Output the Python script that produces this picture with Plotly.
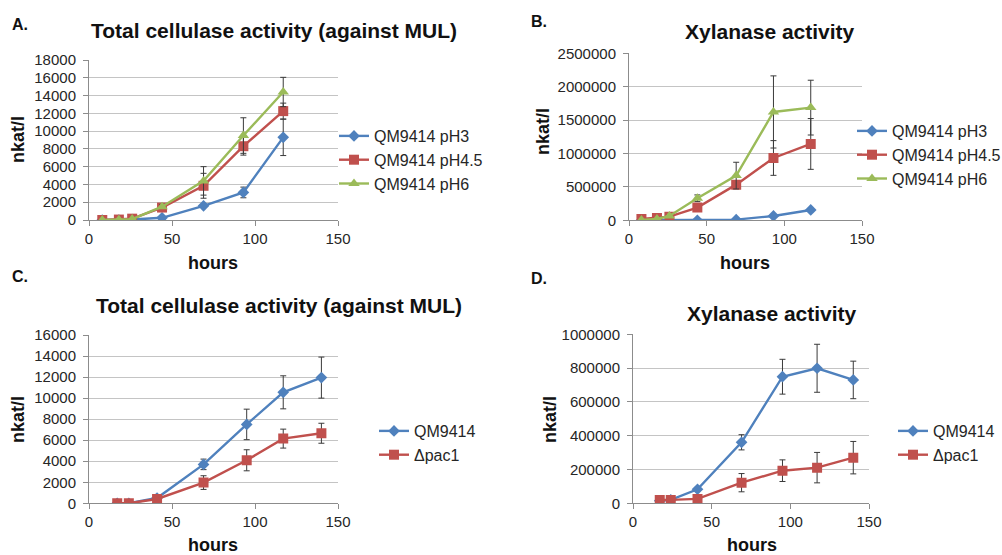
import plotly.graph_objects as go

# Sampling times (hours)
hours_ph = [8, 18, 26, 44, 69, 93, 117]
hours_pac = [17, 24, 41, 69, 95, 117, 140]

# A. Total cellulase activity at different pH (nkat/l)
cell_ph3 = [0, 0, 50, 250, 1600, 3100, 9300]
cell_ph3_err = [0, 0, 0, 100, 200, 600, 2050]
cell_ph45 = [0, 50, 150, 1400, 3850, 8300, 12250]
cell_ph45_err = [0, 0, 50, 200, 1400, 1000, 900]
cell_ph6 = [0, 30, 100, 1500, 4400, 9500, 14400]
cell_ph6_err = [0, 0, 50, 200, 1600, 2000, 1650]

# B. Xylanase activity at different pH (nkat/l)
xyl_ph3 = [0, 0, 0, 0, 10000, 65000, 155000]
xyl_ph3_err = [0, 0, 0, 0, 5000, 10000, 20000]
xyl_ph45 = [20000, 35000, 55000, 190000, 534000, 933000, 1143000]
xyl_ph45_err = [0, 0, 10000, 30000, 50000, 260000, 380000]
xyl_ph6 = [5000, 20000, 65000, 330000, 669000, 1622000, 1687000]
xyl_ph6_err = [0, 0, 10000, 50000, 200000, 540000, 410000]

# C. Total cellulase activity, parent strain vs deletion mutant
cell_wt = [0, 0, 500, 3700, 7500, 10550, 11950]
cell_wt_err = [0, 0, 100, 500, 1450, 1570, 1950]
cell_pac = [0, 0, 410, 1970, 4090, 6150, 6660]
cell_pac_err = [0, 0, 100, 650, 1000, 900, 950]

# D. Xylanase activity, parent strain vs deletion mutant
xyl_wt = [15000, 20000, 83000, 361000, 749000, 799000, 730000]
xyl_wt_err = [0, 0, 10000, 45000, 103000, 142000, 111000]
xyl_pac = [20000, 20000, 26000, 122000, 193000, 211000, 270000]
xyl_pac_err = [0, 0, 5000, 54000, 64000, 90000, 96000]

ph_names = ["QM9414 pH3", "QM9414 pH4.5", "QM9414 pH6"]
strain_names = ["QM9414", "\u0394pac1"]
titles = ["Total cellulase activity (against MUL)", "Xylanase activity",
          "Total cellulase activity (against MUL)", "Xylanase activity"]
panel_letters = ["A.", "B.", "C.", "D."]

BLUE, RED, GREEN = "#4f81bd", "#c0504d", "#9bbb59"
FONT = "Liberation Sans, Arial, sans-serif"
W, H = 1002, 555

style = {
    "blue": dict(color=BLUE, symbol="diamond", size=9),
    "red": dict(color=RED, symbol="square", size=10),
    "green": dict(color=GREEN, symbol="triangle-up", size=10),
}

fig = go.Figure()


def add_series(x, y, err, name, key, axis, legend):
    s = style[key]
    fig.add_trace(go.Scatter(
        x=x, y=y, name=name, mode="lines+markers",
        line=dict(color=s["color"], width=2.4),
        marker=dict(color=s["color"], symbol=s["symbol"], size=s["size"]),
        error_y=dict(type="data", array=err, visible=True,
                     color="#3a3a3a", thickness=1, width=3),
        xaxis="x" + axis, yaxis="y" + axis, legend=legend,
    ))


add_series(hours_ph, cell_ph3, cell_ph3_err, ph_names[0], "blue", "", "legend")
add_series(hours_ph, cell_ph45, cell_ph45_err, ph_names[1], "red", "", "legend")
add_series(hours_ph, cell_ph6, cell_ph6_err, ph_names[2], "green", "", "legend")

add_series(hours_ph, xyl_ph3, xyl_ph3_err, ph_names[0], "blue", "2", "legend2")
add_series(hours_ph, xyl_ph45, xyl_ph45_err, ph_names[1], "red", "2", "legend2")
add_series(hours_ph, xyl_ph6, xyl_ph6_err, ph_names[2], "green", "2", "legend2")

add_series(hours_pac, cell_wt, cell_wt_err, strain_names[0], "blue", "3", "legend3")
add_series(hours_pac, cell_pac, cell_pac_err, strain_names[1], "red", "3", "legend3")

add_series(hours_pac, xyl_wt, xyl_wt_err, strain_names[0], "blue", "4", "legend4")
add_series(hours_pac, xyl_pac, xyl_pac_err, strain_names[1], "red", "4", "legend4")

# Plot areas in pixels: (left, right, top, bottom)
boxes = [(89, 338, 60, 220), (629, 862, 53.3, 220.3),
         (89, 338, 335, 503.3), (633, 869, 334.3, 503.3)]
y_ranges = [(18000, 2000), (2500000, 500000), (16000, 2000), (1000000, 200000)]

tick_font = dict(family=FONT, size=15, color="#262626")
for i, ((l, r, t, b), (ymax, dy)) in enumerate(zip(boxes, y_ranges)):
    sfx = "" if i == 0 else str(i + 1)
    fig.update_layout(**{
        "xaxis" + sfx: dict(
            domain=[l / W, r / W], anchor="y" + sfx, range=[0, 150], dtick=50,
            tick0=0, showgrid=False, zeroline=False, showline=True,
            linecolor="#8c8c8c", linewidth=1, ticks="outside", ticklen=5,
            tickcolor="#8c8c8c", tickfont=tick_font, tickformat="d",
        ),
        "yaxis" + sfx: dict(
            domain=[1 - b / H, 1 - t / H], anchor="x" + sfx, range=[0, ymax],
            dtick=dy, tick0=0, showgrid=True, gridcolor="#c4c4c4", gridwidth=1,
            zeroline=False, showline=True, linecolor="#8c8c8c", linewidth=1,
            ticks="outside", ticklen=5, tickcolor="#8c8c8c",
            tickfont=tick_font, tickformat="d", ticklabelstandoff=4,
        ),
    })

# Legends beside each panel (x is the legend box's left edge)
legend_font = dict(family=FONT, size=16, color="#262626")
legend_pos = [(334, 160), (852, 155), (374, 443), (893, 443)]
for i, (lx, ly) in enumerate(legend_pos):
    key = "legend" if i == 0 else "legend" + str(i + 1)
    fig.update_layout(**{key: dict(
        x=lx / W, y=1 - ly / H, xanchor="left", yanchor="middle",
        font=legend_font, bgcolor="rgba(0,0,0,0)", tracegroupgap=0,
        itemclick=False, borderwidth=0,
    )})

annotations = []
title_pos = [(274, 31), (770, 32), (279, 305), (772, 313)]
for text, (tx, ty) in zip(titles, title_pos):
    annotations.append(dict(
        text=text, x=tx / W, y=1 - ty / H, xref="paper", yref="paper",
        xanchor="center", yanchor="middle", showarrow=False,
        font=dict(family=FONT, size=21, color="#111111", weight="bold"),
    ))
letter_pos = [(10, 25), (529, 21), (10, 276), (529, 278)]
for text, (px, py) in zip(panel_letters, letter_pos):
    annotations.append(dict(
        text=text, x=px / W, y=1 - py / H, xref="paper", yref="paper",
        xanchor="left", yanchor="middle", showarrow=False,
        font=dict(family=FONT, size=16, color="#111111", weight="bold"),
    ))
hours_pos = [(213, 263), (745, 263), (213, 545), (752, 545)]
for px, py in hours_pos:
    annotations.append(dict(
        text="hours", x=px / W, y=1 - py / H, xref="paper", yref="paper",
        xanchor="center", yanchor="middle", showarrow=False,
        font=dict(family=FONT, size=18, color="#111111", weight="bold"),
    ))
nkat_pos = [(18, 140), (543, 132), (18, 420), (550, 420)]
for px, py in nkat_pos:
    annotations.append(dict(
        text="nkat/l", x=px / W, y=1 - py / H, xref="paper", yref="paper",
        xanchor="center", yanchor="middle", showarrow=False, textangle=-90,
        font=dict(family=FONT, size=18, color="#111111", weight="bold"),
    ))

fig.update_layout(
    width=W, height=H,
    margin=dict(l=0, r=0, t=0, b=0, autoexpand=False),
    paper_bgcolor="white", plot_bgcolor="white",
    font=dict(family=FONT), annotations=annotations, showlegend=True,
)

fig.write_html("out.html")
